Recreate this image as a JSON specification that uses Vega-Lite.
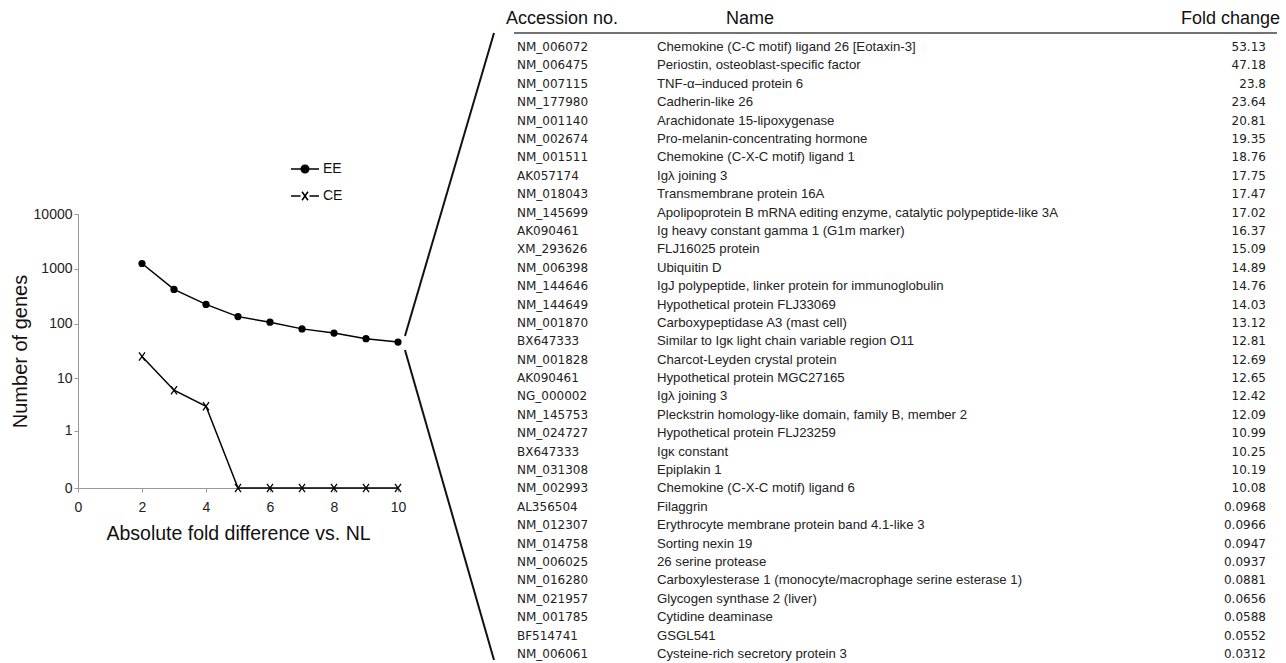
{
  "$schema": "https://vega.github.io/schema/vega-lite/v6.json",
  "width": 1208,
  "height": 488,
  "autosize": {"type": "none"},
  "padding": {"left": 78, "top": 0, "right": 0, "bottom": 175},
  "background": "white",
  "config": {"view": {"stroke": null}, "axis": {"grid": false}, "font": "Liberation Sans"},
  "datasets": {
    "genes": [
      {"diff": 2, "genes": 1250, "group": "EE"},
      {"diff": 3, "genes": 420, "group": "EE"},
      {"diff": 4, "genes": 224, "group": "EE"},
      {"diff": 5, "genes": 134, "group": "EE"},
      {"diff": 6, "genes": 106, "group": "EE"},
      {"diff": 7, "genes": 80, "group": "EE"},
      {"diff": 8, "genes": 67, "group": "EE"},
      {"diff": 9, "genes": 53, "group": "EE"},
      {"diff": 10, "genes": 46, "group": "EE"},
      {"diff": 2, "genes": 25, "group": "CE"},
      {"diff": 3, "genes": 6, "group": "CE"},
      {"diff": 4, "genes": 3, "group": "CE"},
      {"diff": 5, "genes": 0, "group": "CE"},
      {"diff": 6, "genes": 0, "group": "CE"},
      {"diff": 7, "genes": 0, "group": "CE"},
      {"diff": 8, "genes": 0, "group": "CE"},
      {"diff": 9, "genes": 0, "group": "CE"},
      {"diff": 10, "genes": 0, "group": "CE"}
    ],
    "table": [
      {"rank": 1, "acc": "NM_006072", "name": "Chemokine (C-C motif) ligand 26 [Eotaxin-3]", "fold": 53.13},
      {"rank": 2, "acc": "NM_006475", "name": "Periostin, osteoblast-specific factor", "fold": 47.18},
      {"rank": 3, "acc": "NM_007115", "name": "TNF-α–induced protein 6", "fold": 23.8},
      {"rank": 4, "acc": "NM_177980", "name": "Cadherin-like 26", "fold": 23.64},
      {"rank": 5, "acc": "NM_001140", "name": "Arachidonate 15-lipoxygenase", "fold": 20.81},
      {"rank": 6, "acc": "NM_002674", "name": "Pro-melanin-concentrating hormone", "fold": 19.35},
      {"rank": 7, "acc": "NM_001511", "name": "Chemokine (C-X-C motif) ligand 1", "fold": 18.76},
      {"rank": 8, "acc": "AK057174", "name": "Igλ joining 3", "fold": 17.75},
      {"rank": 9, "acc": "NM_018043", "name": "Transmembrane protein 16A", "fold": 17.47},
      {"rank": 10, "acc": "NM_145699", "name": "Apolipoprotein B mRNA editing enzyme, catalytic polypeptide-like 3A", "fold": 17.02},
      {"rank": 11, "acc": "AK090461", "name": "Ig heavy constant gamma 1 (G1m marker)", "fold": 16.37},
      {"rank": 12, "acc": "XM_293626", "name": "FLJ16025 protein", "fold": 15.09},
      {"rank": 13, "acc": "NM_006398", "name": "Ubiquitin D", "fold": 14.89},
      {"rank": 14, "acc": "NM_144646", "name": "IgJ polypeptide, linker protein for immunoglobulin", "fold": 14.76},
      {"rank": 15, "acc": "NM_144649", "name": "Hypothetical protein FLJ33069", "fold": 14.03},
      {"rank": 16, "acc": "NM_001870", "name": "Carboxypeptidase A3 (mast cell)", "fold": 13.12},
      {"rank": 17, "acc": "BX647333", "name": "Similar to Igκ light chain variable region O11", "fold": 12.81},
      {"rank": 18, "acc": "NM_001828", "name": "Charcot-Leyden crystal protein", "fold": 12.69},
      {"rank": 19, "acc": "AK090461", "name": "Hypothetical protein MGC27165", "fold": 12.65},
      {"rank": 20, "acc": "NG_000002", "name": "Igλ joining 3", "fold": 12.42},
      {"rank": 21, "acc": "NM_145753", "name": "Pleckstrin homology-like domain, family B, member 2", "fold": 12.09},
      {"rank": 22, "acc": "NM_024727", "name": "Hypothetical protein FLJ23259", "fold": 10.99},
      {"rank": 23, "acc": "BX647333", "name": "Igκ constant", "fold": 10.25},
      {"rank": 24, "acc": "NM_031308", "name": "Epiplakin 1", "fold": 10.19},
      {"rank": 25, "acc": "NM_002993", "name": "Chemokine (C-X-C motif) ligand 6", "fold": 10.08},
      {"rank": 26, "acc": "AL356504", "name": "Filaggrin", "fold": 0.0968},
      {"rank": 27, "acc": "NM_012307", "name": "Erythrocyte membrane protein band 4.1-like 3", "fold": 0.0966},
      {"rank": 28, "acc": "NM_014758", "name": "Sorting nexin 19", "fold": 0.0947},
      {"rank": 29, "acc": "NM_006025", "name": "26 serine protease", "fold": 0.0937},
      {"rank": 30, "acc": "NM_016280", "name": "Carboxylesterase 1 (monocyte/macrophage serine esterase 1)", "fold": 0.0881},
      {"rank": 31, "acc": "NM_021957", "name": "Glycogen synthase 2 (liver)", "fold": 0.0656},
      {"rank": 32, "acc": "NM_001785", "name": "Cytidine deaminase", "fold": 0.0588},
      {"rank": 33, "acc": "BF514741", "name": "GSGL541", "fold": 0.0552},
      {"rank": 34, "acc": "NM_006061", "name": "Cysteine-rich secretory protein 3", "fold": 0.0312}
    ]
  },
  "layer": [
    {
      "data": {"name": "genes"},
      "layer": [
        {
          "mark": {"type": "line", "color": "black", "strokeWidth": 1.5},
          "encoding": {
            "x": {"field": "diff", "type": "quantitative", "scale": {"domain": [0, 10], "range": [0, 320], "nice": false, "zero": false},
              "axis": {"values": [0, 2, 4, 6, 8, 10], "format": "d", "labelFlush": false, "title": "Absolute fold difference vs. NL", "labelFont": "Liberation Sans", "labelFontSize": 14, "labelColor": "#222", "domainColor": "#999", "tickColor": "#999", "tickSize": 4, "labelPadding": 8, "titleFont": "Liberation Sans", "titleFontSize": 19.5, "titleFontWeight": "normal", "titleColor": "#111", "titlePadding": 10}},
            "y": {"field": "genes", "type": "quantitative", "scale": {"type": "symlog", "constant": 0.1, "domain": [0, 10000], "range": [488, 214], "nice": false, "zero": false},
              "axis": {"values": [0, 1, 10, 100, 1000, 10000], "format": "d", "labelFlush": false, "title": "Number of genes", "labelFont": "Liberation Sans", "labelFontSize": 14, "labelColor": "#222", "domainColor": "#999", "tickColor": "#999", "tickSize": 4, "labelPadding": 2, "titleFont": "Liberation Sans", "titleFontSize": 20, "titleFontWeight": "normal", "titleColor": "#111", "titlePadding": 3}},
            "detail": {"field": "group", "type": "nominal"}
          }
        },
        {
          "transform": [{"filter": "datum.group === 'EE'"}],
          "mark": {"type": "point", "shape": "circle", "filled": true, "color": "black", "size": 52, "opacity": 1},
          "encoding": {
            "x": {"field": "diff", "type": "quantitative", "scale": {"domain": [0, 10], "range": [0, 320], "nice": false, "zero": false}},
            "y": {"field": "genes", "type": "quantitative", "scale": {"type": "symlog", "constant": 0.1, "domain": [0, 10000], "range": [488, 214], "nice": false, "zero": false}}
          }
        },
        {
          "transform": [{"filter": "datum.group === 'CE'"}],
          "mark": {"type": "point", "shape": "M-0.55,-0.75L0.55,0.75M0.55,-0.75L-0.55,0.75", "filled": false, "color": "black", "strokeWidth": 1.3, "size": 120, "opacity": 1},
          "encoding": {
            "x": {"field": "diff", "type": "quantitative", "scale": {"domain": [0, 10], "range": [0, 320], "nice": false, "zero": false}},
            "y": {"field": "genes", "type": "quantitative", "scale": {"type": "symlog", "constant": 0.1, "domain": [0, 10000], "range": [488, 214], "nice": false, "zero": false}}
          }
        },
        {
          "transform": [{"filter": "false"}],
          "mark": {"type": "point", "filled": true, "fill": "black", "stroke": "black", "strokeWidth": 1.5, "opacity": 1},
          "encoding": {
            "x": {"field": "diff", "type": "quantitative", "scale": {"domain": [0, 10], "range": [0, 320], "nice": false, "zero": false}},
            "y": {"field": "genes", "type": "quantitative", "scale": {"type": "symlog", "constant": 0.1, "domain": [0, 10000], "range": [488, 214], "nice": false, "zero": false}},
            "shape": {"field": "group", "type": "nominal",
              "scale": {"domain": ["EE", "CE"], "range": ["M-1,0L1,0M0.27,0A0.27,0.27,0,1,1,-0.27,0A0.27,0.27,0,1,1,0.27,0Z", "M-1,0L-0.32,0M0.32,0L1,0M-0.21,-0.3L0.21,0.3M0.21,-0.3L-0.21,0.3"]},
              "legend": {"orient": "none", "legendX": 212, "legendY": 154, "title": null, "padding": 0, "symbolSize": 784, "rowPadding": 5, "labelOffset": 3, "labelFont": "Liberation Sans", "labelFontSize": 14, "labelColor": "#111", "symbolOpacity": 1, "symbolStrokeWidth": 1.5,
                "encode": {"symbols": {"update": {"stroke": {"value": "black"}, "fill": {"value": "black"}, "strokeWidth": {"value": 1.5}}}}}}
          }
        }
      ]
    },
    {
      "layer": [
        {
          "data": {"values": [{"h": "Accession no."}]},
          "mark": {"type": "text", "align": "left", "baseline": "middle", "font": "Liberation Sans", "fontSize": 18, "color": "#111"},
          "encoding": {
            "x": {"datum": 0.0152, "type": "quantitative", "scale": {"domain": [0, 1], "range": [416, 1208], "nice": false, "zero": false}, "axis": null},
            "y": {"datum": -0.522, "type": "quantitative", "scale": {"domain": [1, 34], "range": [47, 654], "nice": false, "zero": false}, "axis": null},
            "text": {"field": "h"}
          }
        },
        {
          "data": {"values": [{"h": "Name"}]},
          "mark": {"type": "text", "align": "center", "baseline": "middle", "font": "Liberation Sans", "fontSize": 18, "color": "#111"},
          "encoding": {
            "x": {"datum": 0.3232, "type": "quantitative", "scale": {"domain": [0, 1], "range": [416, 1208], "nice": false, "zero": false}, "axis": null},
            "y": {"datum": -0.522, "type": "quantitative", "scale": {"domain": [1, 34], "range": [47, 654], "nice": false, "zero": false}, "axis": null},
            "text": {"field": "h"}
          }
        },
        {
          "data": {"values": [{"h": "Fold change"}]},
          "mark": {"type": "text", "align": "right", "baseline": "middle", "font": "Liberation Sans", "fontSize": 18, "color": "#111"},
          "encoding": {
            "x": {"datum": 0.9924, "type": "quantitative", "scale": {"domain": [0, 1], "range": [416, 1208], "nice": false, "zero": false}, "axis": null},
            "y": {"datum": -0.522, "type": "quantitative", "scale": {"domain": [1, 34], "range": [47, 654], "nice": false, "zero": false}, "axis": null},
            "text": {"field": "h"}
          }
        },
        {
          "data": {"values": [{"rule": "header"}]},
          "mark": {"type": "rule", "color": "#444", "strokeWidth": 1.5},
          "encoding": {
            "x": {"datum": 0.0253, "type": "quantitative", "scale": {"domain": [0, 1], "range": [416, 1208], "nice": false, "zero": false}, "axis": null},
            "x2": {"datum": 0.9886},
            "y": {"datum": 0.239, "type": "quantitative", "scale": {"domain": [1, 34], "range": [47, 654], "nice": false, "zero": false}, "axis": null}
          }
        },
        {
          "data": {"values": [{"line": "top", "fromRank": 16.71, "toRank": 0.239}, {"line": "bottom", "fromRank": 17.47, "toRank": 34.33}]},
          "mark": {"type": "rule", "color": "#111", "strokeWidth": 2},
          "encoding": {
            "x": {"datum": -0.1124, "type": "quantitative", "scale": {"domain": [0, 1], "range": [416, 1208], "nice": false, "zero": false}, "axis": null},
            "x2": {"datum": 0},
            "y": {"field": "fromRank", "type": "quantitative", "scale": {"domain": [1, 34], "range": [47, 654], "nice": false, "zero": false}, "axis": null},
            "y2": {"field": "toRank"}
          }
        },
        {
          "data": {"name": "table"},
          "mark": {"type": "text", "align": "left", "baseline": "middle", "font": "DejaVu Sans", "fontSize": 12, "color": "#222"},
          "encoding": {
            "x": {"datum": 0.029, "type": "quantitative", "scale": {"domain": [0, 1], "range": [416, 1208], "nice": false, "zero": false}, "axis": null},
            "y": {"field": "rank", "type": "quantitative", "scale": {"domain": [1, 34], "range": [47, 654], "nice": false, "zero": false}, "axis": null},
            "text": {"field": "acc", "type": "nominal"}
          }
        },
        {
          "data": {"name": "table"},
          "mark": {"type": "text", "align": "left", "baseline": "middle", "font": "Liberation Sans", "fontSize": 13.2, "color": "#222"},
          "encoding": {
            "x": {"datum": 0.2058, "type": "quantitative", "scale": {"domain": [0, 1], "range": [416, 1208], "nice": false, "zero": false}, "axis": null},
            "y": {"field": "rank", "type": "quantitative", "scale": {"domain": [1, 34], "range": [47, 654], "nice": false, "zero": false}, "axis": null},
            "text": {"field": "name", "type": "nominal"}
          }
        },
        {
          "data": {"name": "table"},
          "mark": {"type": "text", "align": "right", "baseline": "middle", "font": "DejaVu Sans", "fontSize": 12, "color": "#222"},
          "encoding": {
            "x": {"datum": 0.9747, "type": "quantitative", "scale": {"domain": [0, 1], "range": [416, 1208], "nice": false, "zero": false}, "axis": null},
            "y": {"field": "rank", "type": "quantitative", "scale": {"domain": [1, 34], "range": [47, 654], "nice": false, "zero": false}, "axis": null},
            "text": {"field": "fold", "type": "nominal"}
          }
        }
      ]
    }
  ],
  "resolve": {"scale": {"x": "independent", "y": "independent"}}
}
